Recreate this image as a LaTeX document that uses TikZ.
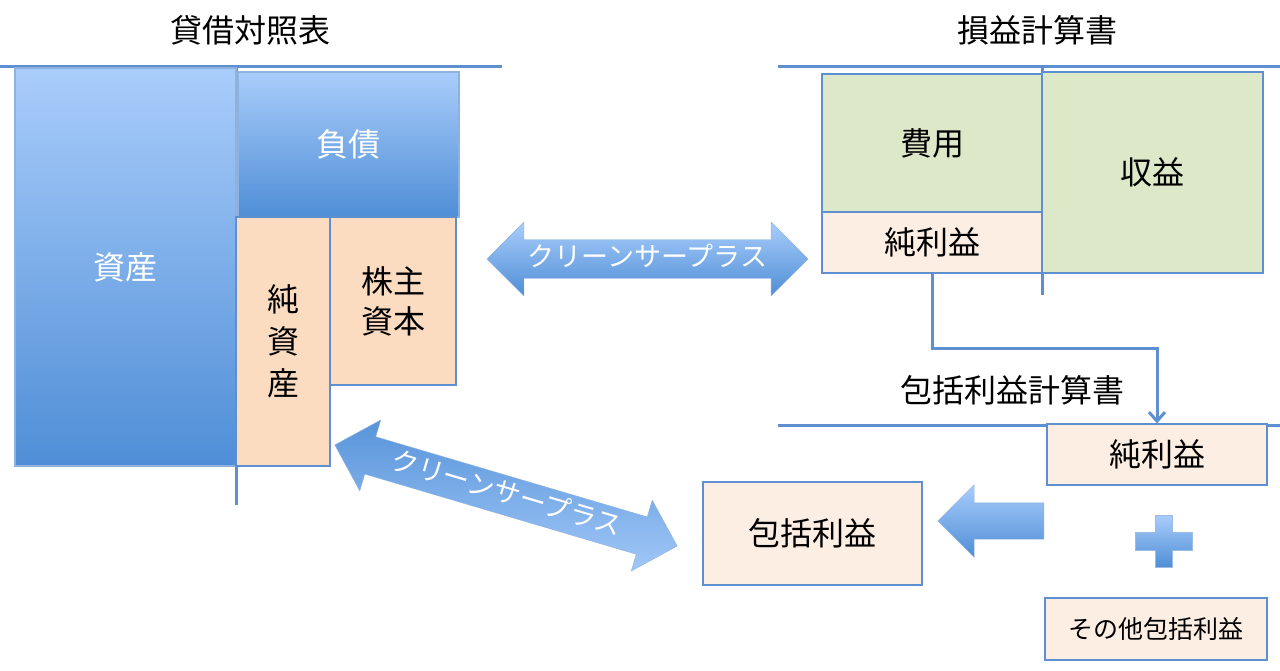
\documentclass[tikz,border=0pt]{standalone}
\usepackage{fontspec}
\setmainfont{Noto Sans CJK JP}
\usetikzlibrary{shapes, shapes.arrows, arrows.meta}

\definecolor{lineblue}{HTML}{5E8FD0}
\definecolor{bartop}{HTML}{A9CDFB}
\definecolor{barbottom}{HTML}{4F8ED6}
\definecolor{peach}{HTML}{FBDCC0}
\definecolor{palepeach}{HTML}{FDEEE3}
\definecolor{palegreen}{HTML}{DDE8C9}

\newcommand{\labelfont}{\fontsize{32}{42}\selectfont}
\newcommand{\stackfont}{\fontsize{32}{40}\selectfont}
\newcommand{\arrowfont}{\fontsize{27}{30}\selectfont}
\newcommand{\smallfont}{\fontsize{25}{28}\selectfont}

\tikzset{
	blueshade/.style = {top color = bartop, bottom color = barbottom},
	box/.style = {draw = lineblue, line width = 1.2, inner sep = 0,
				  font = \labelfont, align = center},
	bluebox/.style = {box, blueshade, draw = lineblue!70, text = white},
	peachbox/.style = {box, fill = peach},
	palebox/.style = {box, fill = palepeach},
	greenbox/.style = {box, fill = palegreen},
	tline/.style = {lineblue, line width = 3},
	flowline/.style = {lineblue, line width = 3},
	twoway/.style = {double arrow, blueshade, draw = lineblue!70,
					 inner xsep = 0, inner ysep = 7.5,
					 text height = 19, text depth = 4.5,
					 double arrow head extend = 17.5,
					 text = white, font = \arrowfont},
	title/.style = {font = \labelfont}
}

\begin{document}
\begin{tikzpicture}[x = 1pt, y = -1pt]
	\useasboundingbox (0,0) rectangle (1280,671);

	% titles
	\draw (250,30) node[title](bstitle) {貸借対照表};
	\draw (1037,30) node[title](pltitle) {損益計算書};
	\draw (1012,390) node[title](cititle) {包括利益計算書};

	% T-account lines
	\draw[tline] (0,67) -- (502,67);
	\draw[tline] (236,67) -- (236,505);
	\draw[tline] (778,67) -- (1280,67);
	\draw[tline] (1042,67) -- (1042,295);
	\draw[tline] (778,425) -- (1280,425);

	% balance sheet
	\draw (125.5,267) node[bluebox,
					 minimum width = 221,
					 minimum height = 398](assets) {資産};
	\draw (348.5,144.5) node[bluebox,
					 minimum width = 221,
					 minimum height = 145](debt) {負債};
	\draw (283,341.5) node[peachbox,
					 minimum width = 94,
					 minimum height = 249](netassets) {純\\資\\産};
	\draw (393,301) node[peachbox,
					 font = \stackfont,
					 minimum width = 126,
					 minimum height = 168](equity) {株主\\資本};

	% income statement
	\draw (932,143) node[greenbox,
					 minimum width = 220,
					 minimum height = 138](expense) {費用};
	\draw (932,242.5) node[palebox,
					 minimum width = 220,
					 minimum height = 61](netincome) {純利益};
	\draw (1152.5,172.5) node[greenbox,
					 minimum width = 221,
					 minimum height = 201](revenue) {収益};

	% comprehensive income
	\draw (1157,454.5) node[palebox,
					 minimum width = 220,
					 minimum height = 61](nisum) {純利益};
	\draw (1156,629) node[palebox,
					 minimum width = 222,
					 minimum height = 62,
					 font = \smallfont](oci) {その他包括利益};
	\draw (812.5,533.5) node[palebox,
					 minimum width = 219,
					 minimum height = 103](ci) {包括利益};

	\draw[flowline, -{Straight Barb[length = 9, width = 16]}]
		(netincome.south) -- ++(0,75) -| (nisum.north);

	% clean surplus arrows
	\draw (647.5,259) node[twoway,
					 minimum height = 321](surplustop) {クリーンサープラス};
	\draw (506,495.5) node[twoway,
					 top color = barbottom!90!bartop,
					 bottom color = bartop!90!barbottom,
					 minimum height = 357,
					 rotate = -16.45](surplusbottom) {クリーンサープラス};

	\draw (1000,521) node[single arrow, blueshade,
					 draw = lineblue!70,
					 shape border rotate = 180,
					 inner xsep = 0, inner ysep = 18,
					 minimum height = 106,
					 single arrow head extend = 18](addup) {};

	% plus sign
	\shade[blueshade, draw = lineblue!60]
		(1155,515) -- (1172,515) -- (1172,532) -- (1192,532) -- (1192,550)
		-- (1172,550) -- (1172,567) -- (1155,567) -- (1155,550) -- (1135,550)
		-- (1135,532) -- (1155,532) -- cycle;

\end{tikzpicture}
\end{document}
